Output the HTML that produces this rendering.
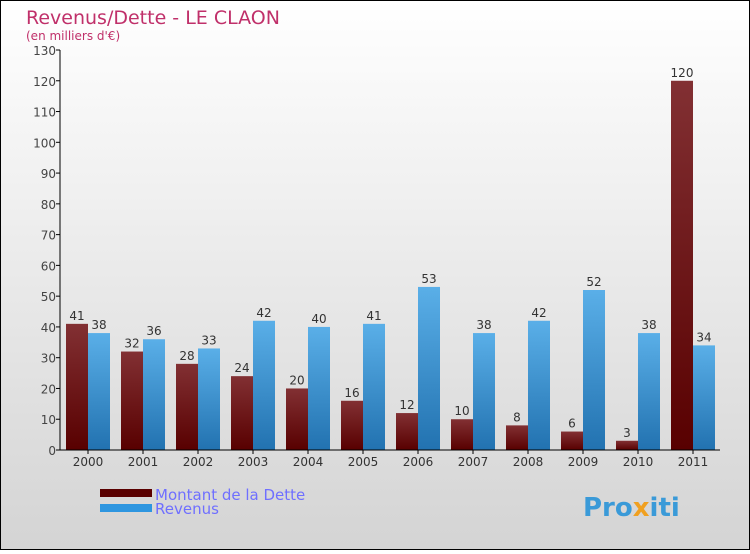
<!DOCTYPE html>
<html><head><meta charset="utf-8"><style>
body{margin:0;}
#c{width:750px;height:550px;position:relative;font-family:"DejaVu Sans","Liberation Sans",sans-serif;}
</style></head><body>
<div id="c">
<svg id="s" width="750" height="550" xmlns="http://www.w3.org/2000/svg">
<defs>
<linearGradient id="bg" x1="0" y1="0" x2="0" y2="1"><stop offset="0" stop-color="#ffffff"/><stop offset="1" stop-color="#d4d4d4"/></linearGradient>
<linearGradient id="gd" x1="0" y1="0" x2="0" y2="1"><stop offset="0" stop-color="#823033"/><stop offset="1" stop-color="#580000"/></linearGradient>
<linearGradient id="gr" x1="0" y1="0" x2="0" y2="1"><stop offset="0" stop-color="#5aafe8"/><stop offset="1" stop-color="#2272b0"/></linearGradient>
</defs>
<rect x="0.5" y="0.5" width="749" height="549" fill="url(#bg)" stroke="#000"/>
<text x="26" y="24" font-size="19" fill="#c0306a">Revenus/Dette - LE CLAON</text>
<text x="26" y="40" font-size="12" fill="#c0306a">(en milliers d'€)</text>
<g id="plot"></g>
<rect x="100" y="489" width="52" height="8" fill="#5a0000"/>
<rect x="100" y="504" width="52" height="8" fill="#2e96e0"/>
<text x="155" y="500" font-size="15" fill="#6f6fff">Montant de la Dette</text>
<text x="155" y="514" font-size="15" fill="#6f6fff">Revenus</text>
<text x="583" y="516" font-size="26" font-weight="bold" fill="#3a9ad8">Pro<tspan fill="#f0a020">x</tspan>iti</text>
</svg>
</div>
<script>
const categories=["2000","2001","2002","2003","2004","2005","2006","2007","2008","2009","2010","2011"];
const dette=[41,32,28,24,20,16,12,10,8,6,3,120];
const revenus=[38,36,33,42,40,41,53,38,42,52,38,34];
const yTicks=[0,10,20,30,40,50,60,70,80,90,100,110,120,130];
const NS="http://www.w3.org/2000/svg";
const g=document.getElementById('plot');
const x0=60,x1=720,yb=450,yt=50,ymax=130;
const y=v=>yb-(v/ymax)*(yb-yt);
const gw=(x1-x0)/categories.length;
function el(t,a){const e=document.createElementNS(NS,t);for(const k in a)e.setAttribute(k,a[k]);g.appendChild(e);return e;}
yTicks.forEach(t=>{
 const l=el('line',{x1:x0-4,x2:x0,y1:y(t),y2:y(t),stroke:'#000'});
 
 
 const tx=el('text',{x:x0-4,y:y(t)+5,'text-anchor':'end','font-size':12,fill:'#444'});
 tx.textContent=t;
 
 
});
categories.forEach((c,i)=>{
 const gx=x0+i*gw;
 const d=dette[i],r=revenus[i];
 const b1=el('rect',{x:gx+6,y:y(d),width:22,height:yb-y(d),fill:'url(#gd)'});
 
 
 const b2=el('rect',{x:gx+28,y:y(r),width:22,height:yb-y(r),fill:'url(#gr)'});
 
 
 const t1=el('text',{x:gx+17,y:y(d)-4,'text-anchor':'middle','font-size':12,fill:'#333'});
 t1.textContent=d;
 
 
 const t2=el('text',{x:gx+39,y:y(r)-4,'text-anchor':'middle','font-size':12,fill:'#333'});
 t2.textContent=r;
 
 
 const tk=el('line',{x1:gx+28,x2:gx+28,y1:yb,y2:yb+4,stroke:'#000'});
 
 
 const xl=el('text',{x:gx+28,y:yb+16,'text-anchor':'middle','font-size':12,fill:'#333'});
 xl.textContent=c;
 
 
});
const ya=el('line',{x1:x0,x2:x0,y1:yt,y2:yb,stroke:'#000'});


const xa=el('line',{x1:x0,x2:x1,y1:yb,y2:yb,stroke:'#000'});


</script>
</body></html>
